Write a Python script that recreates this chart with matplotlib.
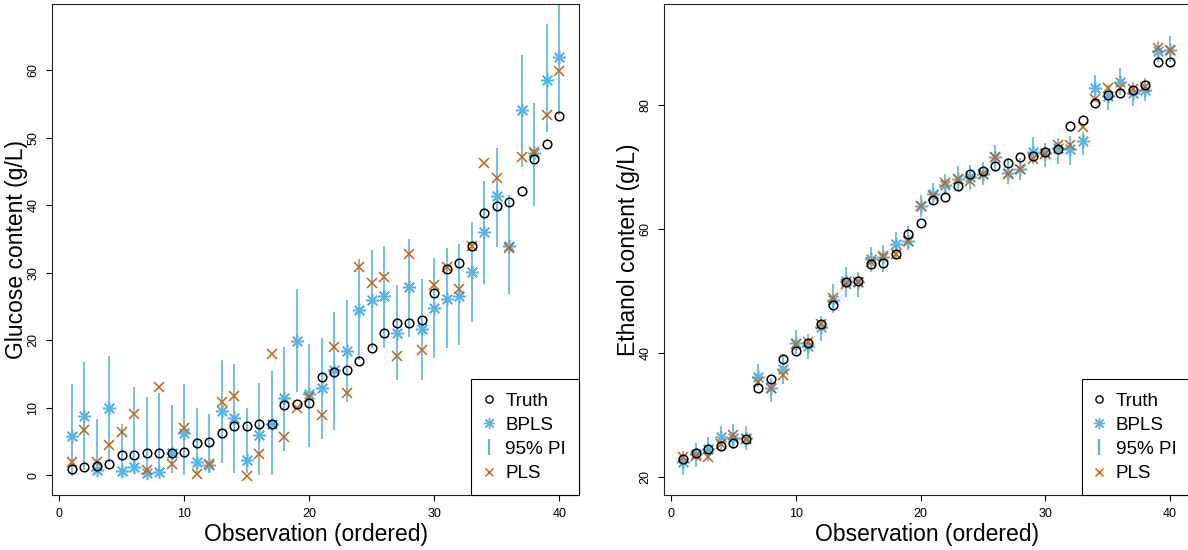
import numpy as np
import matplotlib
matplotlib.use("Agg")
import matplotlib.pyplot as plt
from matplotlib.lines import Line2D

plt.rcParams['font.family'] = ['Liberation Sans', 'DejaVu Sans']

# ---------------------------------------------------------------- data
obs = np.arange(1, 41)

# Glucose (g/L)
glu_truth = [0.84, 1.2, 1.4, 1.7, 3.0, 3.0, 3.2, 3.2, 3.2, 3.4,
             4.7, 4.9, 6.3, 7.3, 7.3, 7.5, 7.5, 10.4, 10.5, 10.6,
             14.5, 15.2, 15.6, 16.9, 18.8, 21.1, 22.5, 22.6, 22.9, 27.0,
             30.5, 31.4, 33.9, 38.9, 39.8, 40.5, 42.1, 46.8, 49.0, 53.2]
glu_bpls = [5.8, 8.7, 0.74, 10.0, 0.6, 1.2, 0.3, 0.5, 3.2, 6.2,
            2.0, 1.5, 9.5, 8.4, 2.2, 6.0, 7.5, 11.4, 19.9, 12.0,
            12.9, 15.5, 18.4, 24.5, 26.0, 26.5, 21.0, 27.8, 21.7, 24.7,
            26.1, 26.6, 30.1, 36.0, 41.4, 34.0, 54.1, 47.7, 58.5, 62.0]
glu_pi_lo = [-0.1, 0.8, 0.3, 2.0, -0.2, 0.3, -0.3, -0.2, 0.3, 0.0,
             0.3, 0.3, 1.8, 0.3, 0.3, 0.0, 0.0, 3.5, 12.3, 4.2,
             5.3, 6.7, 10.8, 17.0, 18.8, 18.8, 14.1, 20.5, 14.1, 17.3,
             18.8, 19.3, 22.7, 28.3, 33.8, 26.8, 45.7, 39.8, 50.9, 53.3]
glu_pi_hi = [13.5, 16.8, 8.3, 17.7, 7.6, 13.1, 11.5, 12.1, 10.4, 13.5,
             9.9, 9.1, 17.1, 16.5, 9.9, 13.6, 15.4, 18.9, 27.5, 19.4,
             20.3, 24.2, 26.0, 32.0, 33.3, 34.0, 28.1, 35.0, 29.1, 32.2,
             33.6, 34.2, 37.5, 43.5, 48.5, 41.5, 62.3, 55.2, 66.9, 70.6]
glu_pls = [2.0, 6.6, 2.0, 4.5, 6.4, 9.0, 0.8, 13.0, 1.7, 6.9,
           0.1, 1.6, 10.8, 11.7, -0.1, 3.1, 18.0, 5.7, 9.9, 11.6,
           8.9, 18.9, 12.2, 30.9, 28.5, 29.3, 17.6, 32.7, 18.5, 28.1,
           30.9, 27.5, 34.0, 46.2, 44.0, 33.6, 47.1, 47.9, 53.3, 59.8]

# Ethanol (g/L)
eth_truth = [23.0, 24.0, 24.5, 25.0, 25.5, 26.1, 34.4, 35.9, 39.1, 40.3,
             41.7, 44.7, 47.8, 51.5, 51.6, 54.3, 54.5, 55.9, 59.1, 61.0,
             64.7, 65.1, 66.9, 68.9, 69.3, 70.2, 70.6, 71.5, 71.8, 72.4,
             72.8, 76.6, 77.6, 80.2, 81.6, 81.8, 82.4, 83.1, 86.8, 86.9]
eth_bpls = [22.4, 23.7, 24.5, 26.5, 26.4, 26.4, 36.2, 34.4, 37.5, 41.6,
            41.2, 44.2, 48.6, 51.6, 51.4, 55.1, 55.4, 57.6, 58.1, 63.7,
            65.6, 67.0, 68.1, 68.4, 68.8, 71.5, 69.0, 69.7, 72.4, 72.2,
            73.0, 72.8, 74.2, 82.6, 81.4, 83.7, 81.8, 82.4, 88.7, 88.8]
eth_pi_lo = [20.4, 21.6, 22.6, 24.3, 24.6, 24.4, 34.5, 32.1, 35.1, 39.9,
             39.1, 42.0, 46.4, 49.1, 49.1, 53.1, 53.1, 55.2, 56.6, 61.9,
             63.8, 65.4, 66.1, 66.2, 67.0, 69.5, 67.3, 67.9, 70.5, 70.0,
             70.5, 70.3, 71.9, 80.5, 79.2, 81.6, 79.8, 80.6, 86.9, 86.9]
eth_pi_hi = [24.3, 25.6, 26.5, 28.3, 28.6, 28.3, 38.2, 36.0, 39.9, 43.8,
             43.1, 46.0, 51.1, 53.8, 53.1, 57.1, 57.4, 59.5, 60.4, 65.4,
             67.4, 68.9, 70.1, 70.3, 70.8, 73.5, 71.4, 71.4, 74.8, 73.8,
             74.7, 74.9, 75.6, 84.8, 83.2, 85.9, 83.7, 84.3, 90.3, 91.0]
eth_pls = [23.3, 23.5, 23.3, 25.3, 26.8, 26.2, 35.3, 34.4, 36.4, 41.5,
           41.8, 44.7, 48.8, 51.2, 51.5, 54.7, 55.6, 55.9, 58.1, 63.7,
           65.3, 67.4, 68.0, 67.7, 68.8, 71.5, 68.9, 69.7, 71.2, 72.1,
           73.5, 73.5, 76.4, 80.9, 82.6, 82.6, 82.5, 82.8, 89.1, 88.8]

x_ticks = [0, 10, 20, 30, 40]
glu_ticks = [0, 10, 20, 30, 40, 50, 60]
eth_ticks = [20, 40, 60, 80]

SKY = '#56B4E9'
VERM = '#D55E00'
ASTERISK = (8, 2, 0)   # "+" and "x" overlaid

# ---------------------------------------------------------------- figure
W, H = 1188, 550
fig = plt.figure(figsize=(W / 100, H / 100), dpi=100)
ax1 = fig.add_axes([52 / W, 55 / H, (579 - 52) / W, (495 - 4) / H])
ax2 = fig.add_axes([664 / W, 55 / H, (1189.5 - 664) / W, (495 - 4) / H])


def panel(ax, truth, bpls, lo, hi, pls, ylim, yticks, ylabel):
    ax.vlines(obs, lo, hi, color=SKY, lw=1.4, alpha=0.85, zorder=1)
    ax.plot(obs, bpls, ls='none', marker=ASTERISK, ms=9.5,
            mec=SKY, mew=1.1, zorder=2)
    ax.plot(obs, pls, ls='none', marker='x', ms=7.0,
            mec=VERM, mew=1.1, zorder=3)
    ax.plot(obs, truth, ls='none', marker='o', ms=6.2,
            mfc='none', mec='black', mew=1.1, zorder=4)

    ax.set_xlim(-0.56, 41.56)
    ax.set_ylim(*ylim)
    ax.set_xticks(x_ticks)
    ax.set_yticks(yticks)
    ax.tick_params(direction='out', length=4.5, width=0.8, labelsize=9,
                   colors='black')
    ax.tick_params(axis='x', pad=5.0)
    ax.tick_params(axis='y', pad=4.5, labelrotation=90)
    for t in ax.get_yticklabels():
        t.set_verticalalignment('center')
    for s in ax.spines.values():
        s.set_linewidth(0.8)
        s.set_color('#222222')

    bbox = ax.get_position()
    wpx = bbox.width * W
    hpx = bbox.height * H
    ax.set_xlabel('Observation (ordered)', fontsize=16.5)
    ax.xaxis.set_label_coords(0.5, -28.5 / hpx)
    ax.set_ylabel(ylabel, fontsize=16.5)
    ax.yaxis.set_label_coords(-24.0 / wpx, 0.5)

    handles = [
        Line2D([], [], ls='none', marker='o', ms=5.2, mfc='none',
               mec='black', mew=1.0, label='Truth'),
        Line2D([], [], ls='none', marker=ASTERISK, ms=8.0, mec=SKY,
               mew=1.0, label='BPLS'),
        Line2D([], [], ls='none', marker='|', ms=11.5, mec=SKY,
               mew=1.6, label='95% PI'),
        Line2D([], [], ls='none', marker='x', ms=6.0, mec=VERM,
               mew=1.0, label='PLS'),
    ]
    leg = ax.legend(handles=handles, loc='lower right', bbox_to_anchor=(1, 0),
                    borderaxespad=0, frameon=True, fancybox=False,
                    edgecolor='black', framealpha=1, fontsize=13.6,
                    handlelength=0.5, handletextpad=0.62, labelspacing=0.37,
                    borderpad=0.68)
    leg.get_frame().set_linewidth(0.8)


panel(ax1, glu_truth, glu_bpls, glu_pi_lo, glu_pi_hi, glu_pls,
      (-2.96, 69.8), glu_ticks, 'Glucose content (g/L)')
panel(ax2, eth_truth, eth_bpls, eth_pi_lo, eth_pi_hi, eth_pls,
      (17.16, 96.2), eth_ticks, 'Ethanol content (g/L)')

fig.savefig('out.png', dpi=100)
